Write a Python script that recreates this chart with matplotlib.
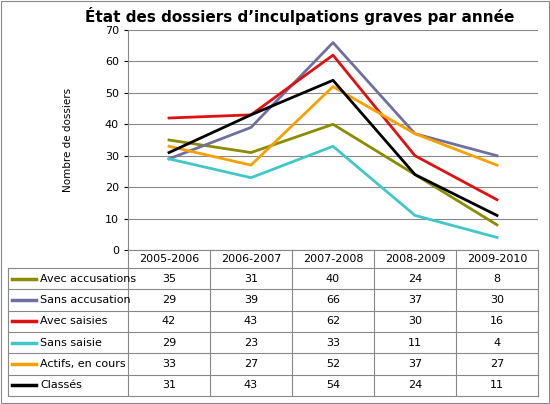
import matplotlib.pyplot as plt
from matplotlib.lines import Line2D
from matplotlib.patches import Rectangle

years = ["2005-2006", "2006-2007", "2007-2008", "2008-2009", "2009-2010"]
series_names = ["Avec accusations", "Sans accusation", "Avec saisies",
                "Sans saisie", "Actifs, en cours", "Classés"]
avec_accusations = [35, 31, 40, 24, 8]
sans_accusation = [29, 39, 66, 37, 30]
avec_saisies = [42, 43, 62, 30, 16]
sans_saisie = [29, 23, 33, 11, 4]
actifs = [33, 27, 52, 37, 27]
classes = [31, 43, 54, 24, 11]
values = [avec_accusations, sans_accusation, avec_saisies, sans_saisie, actifs, classes]
colors = ["#8c8c00", "#7070a0", "#e01010", "#40c8c8", "#f8a000", "#000000"]

W, H = 550, 404
fig = plt.figure(figsize=(W / 100, H / 100), dpi=100)
fig.patches.append(Rectangle((0.002, 0.002), 0.996, 0.995, transform=fig.transFigure,
                             fill=False, ec="#888888", lw=0.8))

def fx(px):
    return px / W

def fy(py):
    return 1 - py / H

left, right, top, bottom = 128, 538, 30, 250
ax = fig.add_axes([fx(left), fy(bottom), fx(right - left), fy(top) - fy(bottom)])
for name, v, c in zip(series_names, values, colors):
    ax.plot(range(len(years)), v, color=c, lw=2)
ax.set_xlim(-0.5, 4.5)
ax.set_ylim(0, 70)
ax.set_yticks(range(0, 71, 10))
ax.set_xticks([])
ax.yaxis.grid(True, color="#888888", lw=0.8)
ax.set_axisbelow(True)
ax.tick_params(axis="y", labelsize=8, length=3)
for s in ["top", "right"]:
    ax.spines[s].set_visible(False)
ax.spines["left"].set_color("#888888")
ax.spines["bottom"].set_color("#888888")

fig.text(0.545, fy(16), "État des dossiers d\u2019inculpations graves par année",
         ha="center", va="center", fontsize=11, fontweight="bold")
fig.text(fx(68), fy(140), "Nombre de dossiers", rotation=90, ha="center",
         va="center", fontsize=7.5)

# data table
col_x = [left + i * (right - left) / 5 for i in range(6)]
head_bot = 268
tab_bot = 396
row_h = (tab_bot - head_bot) / 6
lc = "#888888"

def hline(y, x0, x1):
    fig.add_artist(Line2D([fx(x0), fx(x1)], [fy(y), fy(y)], color=lc, lw=0.8))

def vline(x, y0, y1):
    fig.add_artist(Line2D([fx(x), fx(x)], [fy(y0), fy(y1)], color=lc, lw=0.8))

for x in col_x:
    vline(x, bottom, tab_bot)
vline(8, head_bot, tab_bot)
for i in range(7):
    hline(head_bot + i * row_h, 8, right)
for i, yr in enumerate(years):
    fig.text(fx((col_x[i] + col_x[i + 1]) / 2), fy((bottom + head_bot) / 2), yr,
             ha="center", va="center", fontsize=8)
for r, (name, v, c) in enumerate(zip(series_names, values, colors)):
    yc = head_bot + (r + 0.5) * row_h
    fig.add_artist(Line2D([fx(12), fx(36)], [fy(yc), fy(yc)], color=c, lw=2.5))
    fig.text(fx(40), fy(yc), name, ha="left", va="center", fontsize=8)
    for i, val in enumerate(v):
        fig.text(fx((col_x[i] + col_x[i + 1]) / 2), fy(yc), str(val),
                 ha="center", va="center", fontsize=8)

fig.savefig("out.png", dpi=100)
